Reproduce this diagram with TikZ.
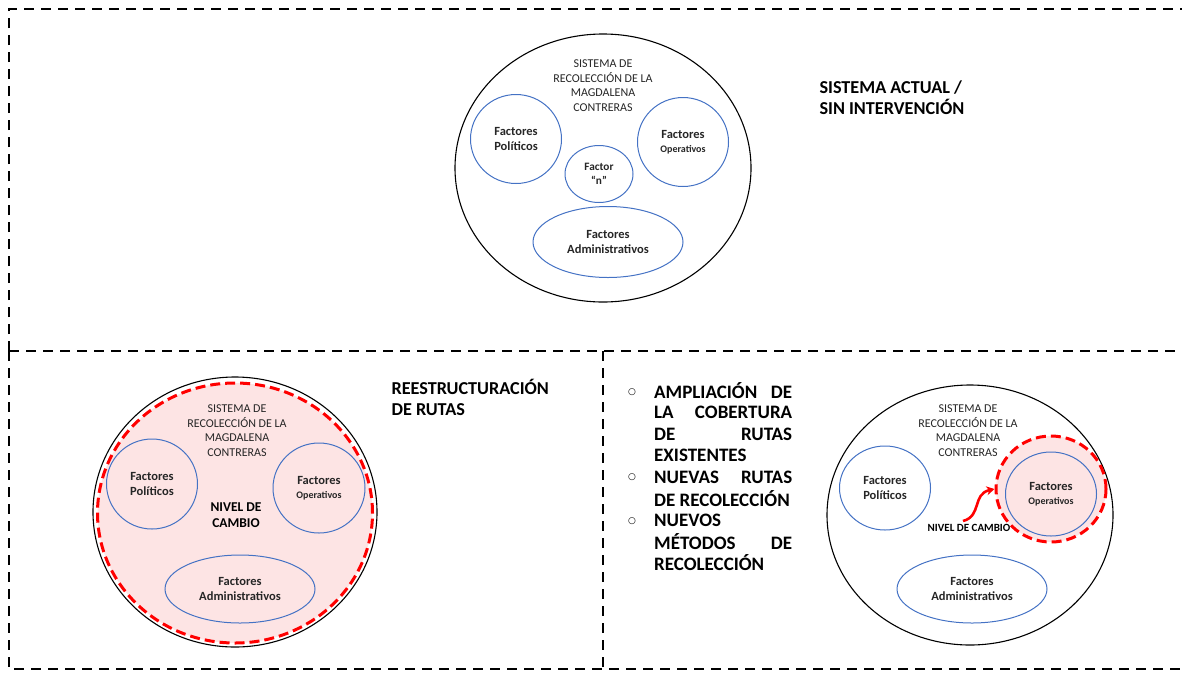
\documentclass[tikz,border=0pt]{standalone}
\usepackage{fontspec}
\setmainfont{Carlito}
\newfontfamily\dejavu{DejaVu Sans}
\usetikzlibrary{shapes.geometric,arrows.meta}
\definecolor{offblue}{RGB}{68,114,196}
\definecolor{pinkfill}{RGB}{253,228,228}
\definecolor{txtgray}{RGB}{38,38,38}
\tikzset{
 frame/.style={line width=2.3pt, dash pattern=on 10pt off 7pt},
 outer/.style={ellipse, draw=black, line width=1.1pt, inner sep=0pt},
 factor/.style={ellipse, draw=offblue, line width=1pt, inner sep=0pt, align=center, font=\bfseries\fontsize{12.5}{14.5}\selectfont, text=txtgray},
 sysname/.style={align=center, font=\fontsize{12}{14.5}\selectfont, text=txtgray},
 title/.style={align=left, anchor=west, font=\bfseries\fontsize{18.2}{21}\selectfont},
 reddash/.style={ellipse, draw=red, fill=pinkfill, line width=3pt, dash pattern=on 10pt off 5pt, inner sep=0pt},
 item/.style={anchor=west, font=\bfseries\fontsize{19}{21}\selectfont, inner sep=0pt},
 bul/.style={font=\dejavu\fontsize{9}{9}\selectfont, inner sep=0pt},
 nivel/.style={align=center, font=\bfseries\fontsize{13.5}{16}\selectfont, text=black},
}
\newcommand{\opsmall}{\fontsize{10}{11}\selectfont}
\begin{document}
\begin{tikzpicture}[x=1pt,y=-1pt]
\useasboundingbox (0,0) rectangle (1182,673);
% frames
\draw[frame] (9,351) -- (9,9) -- (1182,9);
\draw[frame] (9,351) -- (1182,351);
\draw[frame] (9,351) -- (9,669) -- (1182,669);
\draw[frame] (603,351) -- (603,673);

% ---------- top system ----------
\node[outer, minimum width=296pt, minimum height=268pt] (topsys) at (603,168) {};
\node[sysname] (toptext) at (603,85.5) {SISTEMA DE\\RECOLECCIÓN DE LA\\MAGDALENA\\CONTRERAS};
\node[factor, minimum width=91pt, minimum height=89pt] (tpol) at (516,139) {Factores\\Políticos};
\node[factor, minimum width=91pt, minimum height=89pt] (top) at (683,142) {Factores\\{\opsmall Operativos}};
\node[factor, minimum width=68pt, minimum height=57pt, font=\bfseries\fontsize{11.3}{14}\selectfont] (tn) at (599,174) {Factor\\“n”};
\node[factor, minimum width=150pt, minimum height=71pt] (tadm) at (608,242) {Factores\\Administrativos};
\node[title] (t1) at (816,98) {SISTEMA ACTUAL /\\SIN INTERVENCIÓN};

% ---------- bottom left ----------
\node[outer, minimum width=284pt, minimum height=270pt] (blsys) at (235,512) {};
\node[reddash, minimum width=275pt, minimum height=260pt] (blred) at (235,513) {};
\node[sysname] (bltext) at (237,430.5) {SISTEMA DE\\RECOLECCIÓN DE LA\\MAGDALENA\\CONTRERAS};
\node[factor, minimum width=91pt, minimum height=90pt] (blpol) at (152,484) {Factores\\Políticos};
\node[factor, minimum width=92pt, minimum height=90pt] (blop) at (319,488) {Factores\\{\opsmall Operativos}};
\node[factor, minimum width=150pt, minimum height=68pt] (bladm) at (240,589) {Factores\\Administrativos};
\node[nivel] (blniv) at (236,515) {NIVEL DE\\CAMBIO};
\node[title] (t2) at (388,397.5) {REESTRUCTURACIÓN\\DE RUTAS};

% ---------- list ----------
\node[bul] (b1) at (632,392) {○};
\node[bul] (b2) at (632,477) {○};
\node[bul] (b3) at (632,521) {○};
\node[item] (l1) at (654,391) {\makebox[138pt][l]{AMPLIACIÓN\hfill DE}};
\node[item] (l2) at (654,412.5) {\makebox[138pt][l]{LA\hfill COBERTURA}};
\node[item] (l3) at (654,434) {\makebox[138pt][l]{DE\hfill RUTAS}};
\node[item] (l4) at (654,455.5) {EXISTENTES};
\node[item] (l5) at (654,477) {\makebox[138pt][l]{NUEVAS\hfill RUTAS}};
\node[item] (l6) at (654,498.5) {DE RECOLECCIÓN};
\node[item] (l7) at (654,520) {NUEVOS};
\node[item] (l8) at (654,541.5) {\makebox[138pt][l]{MÉTODOS\hfill DE}};
\node[item] (l9) at (654,563) {RECOLECCIÓN};

% ---------- bottom right ----------
\node[outer, minimum width=286pt, minimum height=260pt] (brsys) at (970,515) {};
\node[sysname] (brtext) at (968,430.5) {SISTEMA DE\\RECOLECCIÓN DE LA\\MAGDALENA\\CONTRERAS};
\node[factor, minimum width=91pt, minimum height=84pt] (brpol) at (885,488) {Factores\\Políticos};
\node[reddash, minimum width=110pt, minimum height=106pt] (brred) at (1051,489) {};
\node[factor, minimum width=91pt, minimum height=84pt] (brop) at (1051,494) {Factores\\{\opsmall Operativos}};
\node[factor, minimum width=150pt, minimum height=68pt] (bradm) at (972,589) {Factores\\Administrativos};
\node[nivel, font=\bfseries\fontsize{11}{13}\selectfont] (brniv) at (969,528) {NIVEL DE CAMBIO};
\coordinate (arrS) at (963,521);
\draw[red, line width=2.6pt, -{Stealth[length=8pt,width=9pt]}] (arrS) .. controls (982,516) and (972,494) .. (brred.west);
\end{tikzpicture}
\end{document}
